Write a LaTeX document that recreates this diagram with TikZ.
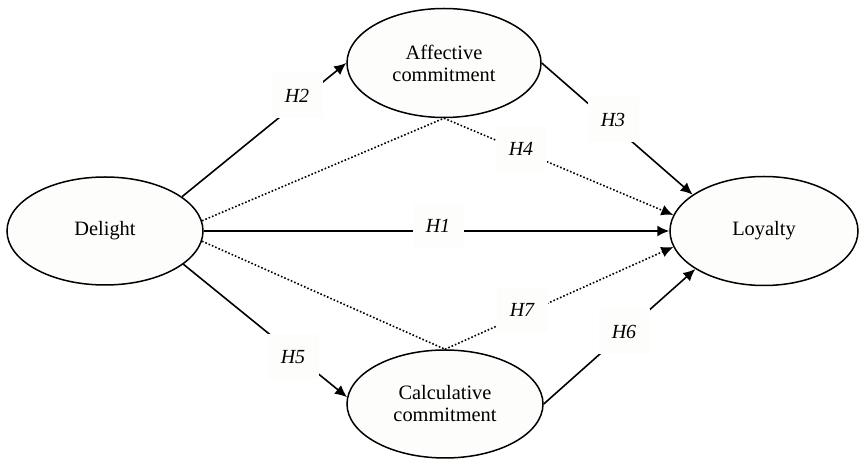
\documentclass[tikz,border=0pt]{standalone}
\usepackage{fontspec}
\setmainfont{Liberation Serif}
\usetikzlibrary{arrows.meta,shapes.geometric}
\definecolor{offwhite}{RGB}{253,253,251}
\begin{document}
\begin{tikzpicture}[x=0.5pt,y=-0.5pt,var/.style={ellipse,draw,line width=.75pt,fill=offwhite,minimum width=97pt,minimum height=54.5pt,inner sep=0pt,align=center,font=\fontsize{10.2}{11}\selectfont},hyp/.style={fill=offwhite,minimum width=25.5pt,minimum height=22.5pt,inner sep=0pt,font=\itshape},link/.style={line width=.8pt,-{Latex[length=6pt,width=5.5pt]}},dots/.style={line width=.8pt,densely dotted}]
  \useasboundingbox (0,0) rectangle (859,459);
  \node[var,minimum width=98pt,minimum height=54pt] (del) at (105,231) {Delight};
  \node[var] (aff) at (444,63) {Affective\\commitment};
  \node[var,minimum width=98pt,minimum height=54pt] (cal) at (445,404) {Calculative\\commitment};
  \node[var,minimum width=94pt] (loy) at (764,231) {Loyalty};

  \draw[link] (del.24) -- (aff.west);
  \draw[link] (aff.east) -- (loy.153);
  \draw[link] (del.east) -- (loy.west);
  \draw[dots] (del.6) -- (aff.south);
  \draw[dots,-{Latex[length=6pt,width=5.5pt]}] (aff.south) -- (loy.170);
  \draw[dots] (del.-6) -- (cal.north);
  \draw[dots,-{Latex[length=6pt,width=5.5pt]}] (cal.north) -- (loy.190);
  \draw[link] (del.-23) -- (cal.176);
  \draw[link] (cal.east) -- (loy.209);

  \node[hyp] (h1) at (438,226) {H1};
  \node[hyp] (h2) at (297,96) {H2};
  \node[hyp] (h3) at (613,120) {H3};
  \node[hyp] (h4) at (521,149) {H4};
  \node[hyp] (h5) at (293,357) {H5};
  \node[hyp] (h6) at (624,332) {H6};
  \node[hyp] (h7) at (522,310) {H7};
\end{tikzpicture}
\end{document}
